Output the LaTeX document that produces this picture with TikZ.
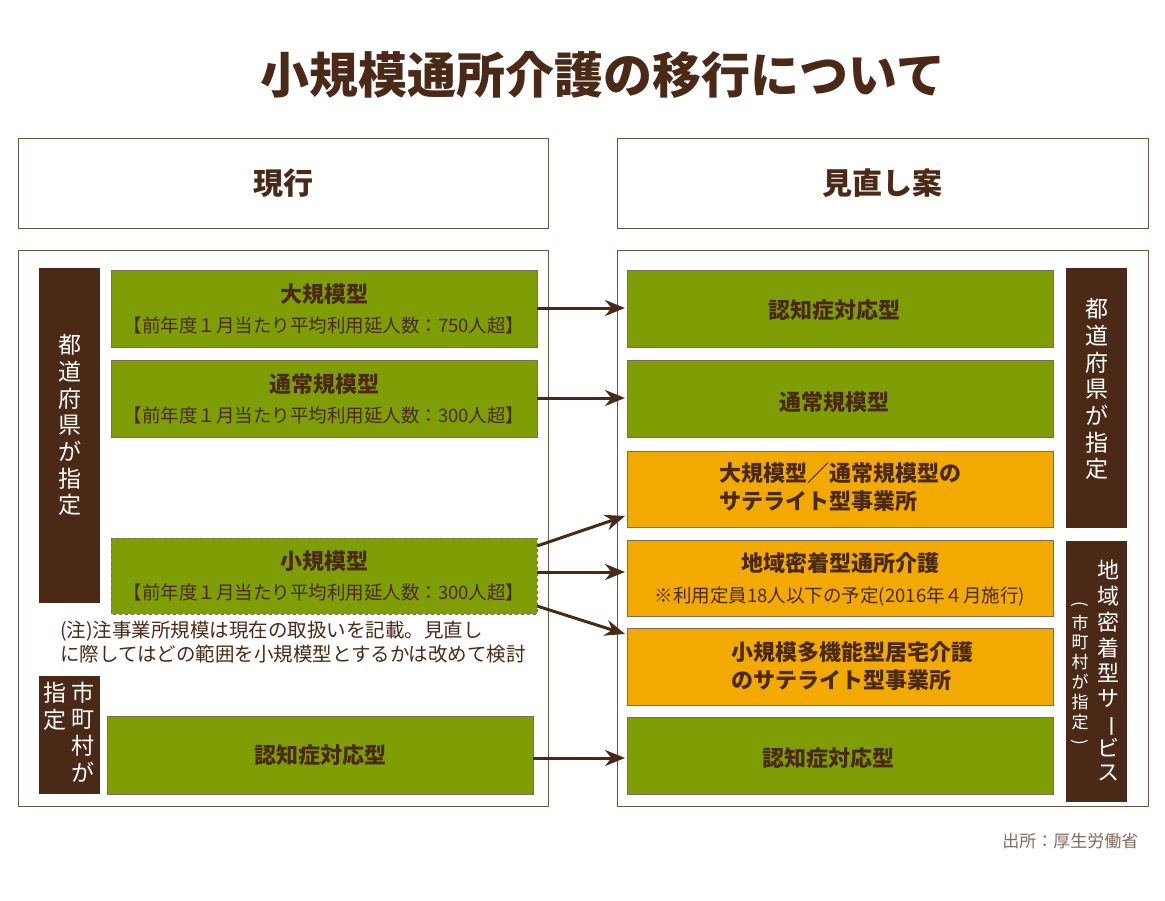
\documentclass[tikz,border=0pt]{standalone}
\usepackage{fontspec}
\setmainfont{Noto Sans CJK JP}
\usetikzlibrary{positioning,calc,arrows.meta}
\definecolor{darkbrown}{HTML}{4A2A16}
\definecolor{leaf}{HTML}{7F9E06}
\definecolor{amber}{HTML}{F2A900}
\definecolor{frame}{HTML}{6B5444}
\newcommand{\vstack}[1]{\begin{tabular}{@{}c@{}}#1\end{tabular}}
\begin{document}
\begin{tikzpicture}[x=1pt,y=-1pt,
  panel/.style={draw=frame,line width=0.8pt,fill=white},
  green box/.style={draw=darkbrown!70,line width=0.6pt,fill=leaf},
  orange box/.style={draw=darkbrown!70,line width=0.6pt,fill=amber},
  bar/.style={fill=darkbrown},
  label/.style={text=darkbrown,font=\bfseries\fontsize{22}{28}\selectfont,align=center},
  sub/.style={text=darkbrown,font=\fontsize{18.5}{22}\selectfont,align=center},
  vtext/.style={text=white,font=\fontsize{23}{25}\selectfont,inner sep=0pt},
  flow/.style={-{Stealth[length=20pt,width=16pt]},draw=darkbrown,line width=3pt},
  ]
  \useasboundingbox (0,0) rectangle (1165,900);
  % title
  \node[text=darkbrown,font=\bfseries\fontsize{49}{56}\selectfont] (title) at (603,75) {小規模通所介護の移行について};
  % headers
  \draw[panel] (18,138) rectangle (548,228);
  \node[label,font=\bfseries\fontsize{30}{34}\selectfont] (cur) at (283,183) {現行};
  \draw[panel] (617,138) rectangle (1148,228);
  \node[label,font=\bfseries\fontsize{30}{34}\selectfont] (rev) at (882,183) {見直し案};
  % panels
  \draw[panel] (18,250) rectangle (548,806);
  \draw[panel] (617,250) rectangle (1148,806);

  % left side
  \fill[bar] (39,268) rectangle (100,603);
  \node[vtext] (prefL) at (69.5,428) {\vstack{都\\道\\府\\県\\が\\指\\定}};
  \draw[green box] (111,270) rectangle (537,347);
  \node[label] (large) at (324,294) {大規模型};
  \node[sub] at (324,325) {【前年度１月当たり平均利用延人数：750人超】};
  \draw[green box] (111,360) rectangle (537,437);
  \node[label] (normal) at (324,384) {通常規模型};
  \node[sub] at (324,415) {【前年度１月当たり平均利用延人数：300人超】};
  \draw[green box,dashed] (111,538) rectangle (537,614);
  \node[label] (small) at (324,561) {小規模型};
  \node[sub] at (324,592) {【前年度１月当たり平均利用延人数：300人超】};
  \node[text=darkbrown,font=\fontsize{19.5}{24}\selectfont,align=left,anchor=north west,inner sep=0pt] (note) at (60,621)
    {(注)注事業所規模は現在の取扱いを記載。見直し\\に際してはどの範囲を小規模型とするかは改めて検討};
  \fill[bar] (39,676) rectangle (100,794);
  \node[vtext,anchor=north] (cityL) at (83,682) {\vstack{市\\町\\村\\が}};
  \node[vtext,anchor=north] (cityL2) at (55,682) {\vstack{指\\定}};
  \draw[green box] (107,716) rectangle (533,794);
  \node[label] (dementL) at (320,755) {認知症対応型};

  % right side
  \draw[green box] (627,270) rectangle (1053,347);
  \node[label] (dementR) at (834,310) {認知症対応型};
  \draw[green box] (627,360) rectangle (1053,437);
  \node[label] (normalR) at (834,402) {通常規模型};
  \draw[orange box] (627,451) rectangle (1053,527);
  \node[label,align=left] (sat) at (840,487) {大規模型／通常規模型の\\サテライト型事業所};
  \draw[orange box] (627,540) rectangle (1053,616);
  \node[label] (local) at (840,563) {地域密着型通所介護};
  \node[sub] at (840,596) {※利用定員18人以下の予定(2016年４月施行)};
  \draw[orange box] (627,628) rectangle (1053,705);
  \node[label,align=left] (multi) at (852,666) {小規模多機能型居宅介護\\のサテライト型事業所};
  \draw[green box] (627,717) rectangle (1053,794);
  \node[label] (dementR2) at (828,758) {認知症対応型};
  \fill[bar] (1066,268) rectangle (1127,528);
  \node[vtext] (prefR) at (1096.5,392) {\vstack{都\\道\\府\\県\\が\\指\\定}};
  \fill[bar] (1066,541) rectangle (1127,802);
  \node[vtext,anchor=north,font=\fontsize{22}{24.5}\selectfont] (svc) at (1108,560) {\vstack{地\\域\\密\\着\\型\\サ\\\rotatebox[origin=c]{-90}{ー}\\ビ\\ス}};
  \node[vtext,anchor=north,font=\fontsize{17}{19}\selectfont] (svc2) at (1080,596) {\vstack{\rotatebox[origin=c]{-90}{(}\\市\\町\\村\\が\\指\\定\\\rotatebox[origin=c]{-90}{)}}};

  % arrows
  \coordinate (a1) at (537,308); \coordinate (b1) at (625,308);
  \coordinate (a2) at (537,398); \coordinate (b2) at (625,398);
  \coordinate (a3) at (537,546); \coordinate (b3) at (625,516);
  \coordinate (a4) at (537,572); \coordinate (b4) at (625,572);
  \coordinate (a5) at (537,606); \coordinate (b5) at (625,634);
  \coordinate (a6) at (533,758); \coordinate (b6) at (625,758);
  \foreach \i in {1,...,6} \draw[flow] (a\i) -- (b\i);

  \node[text=darkbrown!70,font=\fontsize{17}{20}\selectfont,anchor=east] (src) at (1142,841) {出所：厚生労働省};
\end{tikzpicture}
\end{document}
